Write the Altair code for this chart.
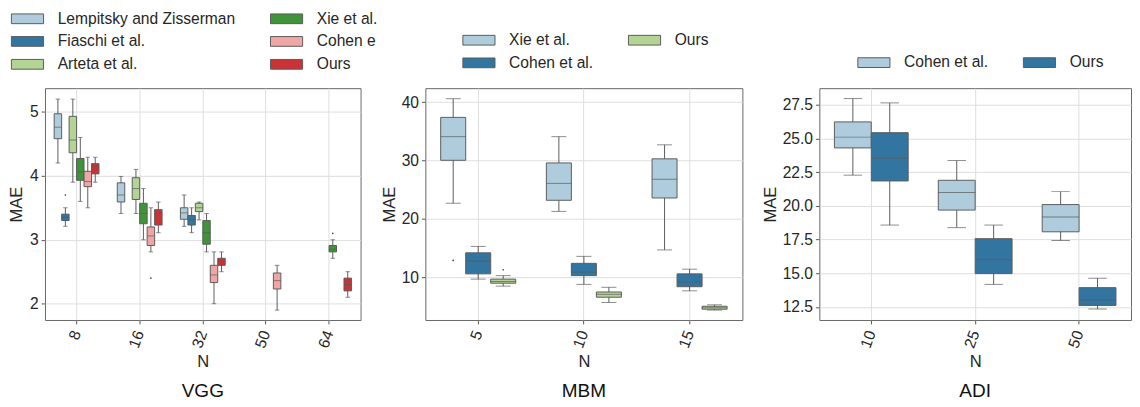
import altair as alt
import pandas as pd

FONT = "Liberation Sans"
GRAY = "#5a5a5a"
TXT = "#262626"
LB, DB, LG, DG, PK, RD = "#aeccdb", "#3275a1", "#b3d495", "#40923b", "#efa6a5", "#ca3335"

# ---------------- VGG ----------------
vgg_cats = ["8", "16", "32", "50", "64"]
vgg_methods = ["Lempitsky and Zisserman", "Fiaschi et al.", "Arteta et al.", "Xie et al.", "Cohen e", "Ours"]
vgg_colors = [LB, DB, LG, DG, PK, RD]
vgg_n = ["8", "8", "8", "8", "8", "8",
         "16", "16", "16", "16", "16",
         "32", "32", "32", "32", "32", "32",
         "50",
         "64", "64"]
vgg_m = ["Lempitsky and Zisserman", "Fiaschi et al.", "Arteta et al.", "Xie et al.", "Cohen e", "Ours",
         "Lempitsky and Zisserman", "Arteta et al.", "Xie et al.", "Cohen e", "Ours",
         "Lempitsky and Zisserman", "Fiaschi et al.", "Arteta et al.", "Xie et al.", "Cohen e", "Ours",
         "Cohen e",
         "Xie et al.", "Ours"]
vgg_lo = [4.20, 3.21, 3.90, 3.60, 3.50, 3.90,
          3.41, 3.41, 3.00, 2.81, 3.11,
          3.21, 3.11, 3.31, 2.81, 2.00, 2.50,
          1.90,
          2.71, 2.10]
vgg_q1 = [4.58, 3.30, 4.36, 3.93, 3.83, 4.03,
          3.59, 3.63, 3.25, 2.91, 3.23,
          3.32, 3.23, 3.44, 2.93, 2.33, 2.60,
          2.23,
          2.81, 2.20]
vgg_med = [4.76, 3.35, 4.56, 4.06, 3.91, 4.15,
           3.70, 3.80, 3.41, 3.06, 3.41,
           3.42, 3.31, 3.50, 3.11, 2.45, 2.66,
           2.36,
           2.85, 2.30]
vgg_q3 = [4.97, 3.40, 4.93, 4.27, 4.07, 4.19,
          3.89, 3.97, 3.57, 3.20, 3.47,
          3.50, 3.38, 3.57, 3.30, 2.60, 2.71,
          2.48,
          2.91, 2.40]
vgg_hi = [5.20, 3.50, 5.20, 4.60, 4.29, 4.29,
          3.99, 4.10, 3.80, 3.50, 3.59,
          3.70, 3.50, 3.59, 3.41, 2.81, 2.81,
          2.60,
          3.00, 2.50]
vgg_fl_n = ["8", "16", "64"]
vgg_fl_m = ["Fiaschi et al.", "Cohen e", "Xie et al."]
vgg_fl_v = [3.70, 2.40, 3.10]

# ---------------- MBM ----------------
mbm_cats = ["5", "10", "15"]
mbm_methods = ["Xie et al.", "Cohen et al.", "Ours"]
mbm_colors = [LB, DB, LG]
mbm_n = ["5", "5", "5", "10", "10", "10", "15", "15", "15"]
mbm_m = ["Xie et al.", "Cohen et al.", "Ours"] * 3
mbm_lo = [22.7, 9.7, 8.5, 21.3, 8.8, 5.7, 14.7, 7.7, 4.4]
mbm_q1 = [30.05, 10.6, 9.0, 23.2, 10.3, 6.6, 23.6, 8.4, 4.55]
mbm_med = [34.1, 12.8, 9.3, 26.1, 10.9, 7.1, 26.8, 9.2, 4.8]
mbm_q3 = [37.4, 14.2, 9.7, 29.6, 12.4, 7.5, 30.3, 10.6, 5.05]
mbm_hi = [40.6, 15.3, 10.3, 34.1, 13.6, 8.3, 32.7, 11.4, 5.3]
mbm_fl_n = ["5", "5"]
mbm_fl_m = ["Xie et al.", "Ours"]
mbm_fl_v = [12.9, 11.3]

# ---------------- ADI ----------------
adi_cats = ["10", "25", "50"]
adi_methods = ["Cohen et al.", "Ours"]
adi_colors = [LB, DB]
adi_n = ["10", "10", "25", "25", "50", "50"]
adi_m = ["Cohen et al.", "Ours"] * 3
adi_lo = [22.28, 18.58, 18.39, 14.18, 17.43, 12.36]
adi_q1 = [24.30, 21.85, 19.69, 14.98, 18.08, 12.62]
adi_med = [25.10, 23.53, 21.00, 16.00, 19.18, 13.03]
adi_q3 = [26.23, 25.43, 21.90, 17.57, 20.10, 13.94]
adi_hi = [27.96, 27.64, 23.37, 18.58, 21.06, 14.64]

PLOT_H = 238
PAD_IN = 0.29
SYM = 16  # nominal legend symbol size (px); drawn swatch is 33 x 10


def make_panel(cats, methods, colors, n, m, lo, q1, med, q3, hi,
               fl_n, fl_m, fl_v, ydom, yticks, yfmt, width, name, lx, ly, cap_frac,
               title_pad):
    df = pd.DataFrame(dict(N=n, method=m, lo=lo, q1=q1, med=med, q3=q3, hi=hi))
    slot = width / len(cats) * (1 - PAD_IN) / len(methods)
    xs = alt.Scale(domain=cats, paddingInner=PAD_IN, paddingOuter=PAD_IN / 2)
    xax = alt.Axis(title="N", labelAngle=290, bandPosition=0.5, grid=True,
                   labelPadding=7, titlePadding=4)
    x = alt.X("N:N", scale=xs, axis=xax)
    xo = alt.XOffset("method:N", scale=alt.Scale(domain=methods, paddingInner=0, paddingOuter=0))
    ys = alt.Scale(domain=ydom, nice=False, zero=False)
    yax = alt.Axis(title="MAE", values=yticks, format=yfmt, grid=True,
                   labelPadding=3, titlePadding=title_pad)

    def Y(f):
        return alt.Y(f"{f}:Q", scale=ys, axis=yax)

    base = alt.Chart(df)
    whisk = base.mark_rule(color=GRAY, strokeWidth=1).encode(x=x, xOffset=xo, y=Y("lo"), y2="hi:Q")
    cap_lo = base.mark_tick(color=GRAY, size=slot * cap_frac, thickness=1).encode(x=x, xOffset=xo, y=Y("lo"))
    cap_hi = base.mark_tick(color=GRAY, size=slot * cap_frac, thickness=1).encode(x=x, xOffset=xo, y=Y("hi"))
    box = base.mark_bar(stroke=GRAY, strokeWidth=1, opacity=1).encode(
        x=x, xOffset=xo, y=Y("q1"), y2="q3:Q",
        color=alt.Color("method:N",
                        scale=alt.Scale(domain=methods, range=colors),
                        legend=alt.Legend(title=None, orient="none", legendX=lx + 6.5, legendY=ly,
                                          columns=2, padding=0)))
    medl = base.mark_tick(color=GRAY, size=slot, thickness=1).encode(x=x, xOffset=xo, y=Y("med"))
    layers = [whisk, cap_lo, cap_hi, box, medl]
    if fl_v:
        fdf = pd.DataFrame(dict(N=fl_n, method=fl_m, v=fl_v))
        fl = alt.Chart(fdf).mark_circle(color="#444444", size=3, opacity=1).encode(
            x=x, xOffset=xo, y=Y("v"))
        layers.append(fl)
    return alt.layer(*layers).properties(
        width=width, height=PLOT_H,
        title=alt.TitleParams(name, orient="bottom", anchor="middle", frame="group", offset=14))


p1 = make_panel(vgg_cats, vgg_methods, vgg_colors, vgg_n, vgg_m, vgg_lo, vgg_q1,
                vgg_med, vgg_q3, vgg_hi, vgg_fl_n, vgg_fl_m, vgg_fl_v,
                [1.745, 5.37], [2, 3, 4, 5], "d", 324, "VGG", -33, -80, 0.6, 4)
p2 = make_panel(mbm_cats, mbm_methods, mbm_colors, mbm_n, mbm_m, mbm_lo, mbm_q1,
                mbm_med, mbm_q3, mbm_hi, mbm_fl_n, mbm_fl_m, mbm_fl_v,
                [2.7, 42.4], [10, 20, 30, 40], "d", 325.5, "MBM", 40, -58, 0.6, 2.5)
p3 = make_panel(adi_cats, adi_methods, adi_colors, adi_n, adi_m, adi_lo, adi_q1,
                adi_med, adi_q3, adi_hi, [], [], [],
                [11.54, 28.73], [12.5, 15, 17.5, 20, 22.5, 25, 27.5], ".1f", 320, "ADI", 41, -35, 0.5, 2.5)

hx = 16.5 / (SYM / 2)
hy = 5.0 / (SYM / 2)
sym_path = f"M{-hx:.4f},{-hy:.4f}H{hx:.4f}V{hy:.4f}H{-hx:.4f}Z"

RES = dict(color="independent", xOffset="independent", x="independent", y="independent")
left_pair = alt.hconcat(p1, p2, spacing=2.5).resolve_scale(**RES).resolve_legend(color="independent")
chart = alt.hconcat(left_pair, p3, spacing=18).resolve_scale(**RES).resolve_legend(
    color="independent"
).properties(
    padding={"left": -1, "top": -4, "right": 0, "bottom": 0}
).configure_view(
    stroke="#666666", strokeWidth=1
).configure_axis(
    labelFont=FONT, titleFont=FONT, labelFontSize=16, titleFontSize=17,
    labelColor=TXT, titleColor=TXT, titleFontWeight="normal",
    tickColor="#555555", tickSize=4, tickWidth=1, domain=False,
    gridColor="#dddddd", gridWidth=1
).configure_legend(
    labelFont=FONT, labelFontSize=16, labelColor=TXT, labelLimit=400,
    symbolType=sym_path, symbolSize=SYM * SYM,
    symbolStrokeColor=GRAY, symbolStrokeWidth=1, symbolOpacity=1,
    labelOffset=22.5, columnPadding=34, rowPadding=6.5,
    padding=0
).configure_title(
    font=FONT, fontSize=19.5, fontWeight="normal", color="#111111"
)

chart.save("out.html", embed_options={"renderer": "svg", "actions": False})
